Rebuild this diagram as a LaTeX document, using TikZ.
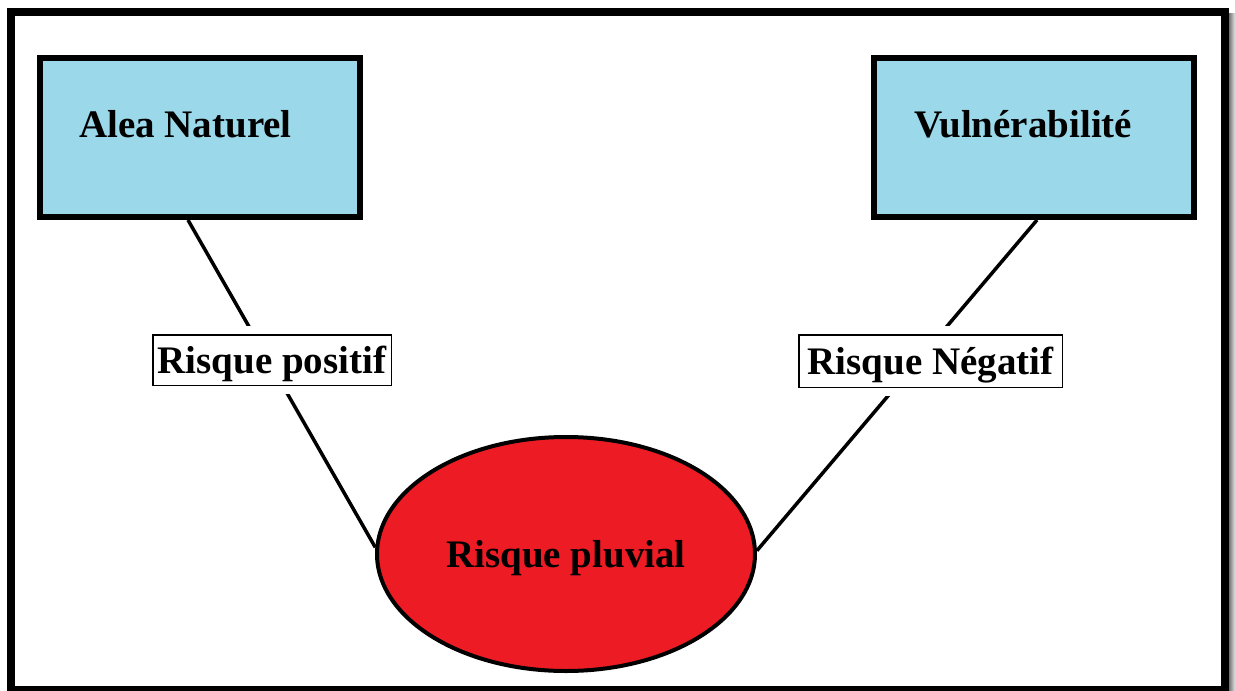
\documentclass[tikz,border=0pt]{standalone}
\usepackage{fontspec}
\setmainfont{Liberation Serif}
\usetikzlibrary{shapes.geometric,calc,backgrounds}
\definecolor{boxblue}{HTML}{9BD9EA}
\definecolor{riskred}{HTML}{ED1C24}
\tikzset{
  bigbox/.style={draw=black, line width=6pt, fill=boxblue, minimum width=320pt, minimum height=159pt, inner sep=0pt},
  bigtext/.style={anchor=base, inner sep=0pt, font=\fontsize{39}{45}\selectfont\bfseries},
  riskellipse/.style={ellipse, draw=black, line width=4pt, fill=riskred, minimum width=378pt, minimum height=234pt, inner sep=0pt, font=\fontsize{39}{45}\selectfont\bfseries, text height=26pt, text depth=0pt},
  lblbox/.style={draw=black, line width=1.5pt, fill=white, preaction={draw=white, line width=18pt}, inner sep=0pt, font=\fontsize{39}{45}\selectfont\bfseries, text height=26pt, text depth=0pt},
  conn/.style={draw=black, line width=3.5pt}
}
\begin{document}
\begin{tikzpicture}[x=1pt, y=-1pt]
\useasboundingbox (0,0) rectangle (1235,691);
% shadow and frame
\shade[left color=black!55, right color=black!10] (1229,13) rectangle (1235,691);
\draw[line width=8pt] (11,12) rectangle (1225,690);
% boxes
\node[bigbox] (A) at (200,137.5) {};
\node[bigtext] (At) at (185.5,137) {Alea Naturel};
\node[bigbox] (B) at (1033.5,137.5) {};
\node[bigtext] (Bt) at (1023.5,137) {Vulnérabilité};
% ellipse
\node[riskellipse] (E) at (566,554) {Risque pluvial};
% labels
\node[lblbox, minimum width=238.5pt, minimum height=50.5pt] (L1) at (272,360) {Risque positif};
\node[lblbox, minimum width=263.5pt, minimum height=52.5pt] (L2) at (930.5,361) {Risque Négatif};
% connectors
\begin{pgfonlayer}{background}
\draw[conn] ($(A.south)+(-12,0)$) -- (E.178);
\draw[conn] ($(B.south)+(3.5,0)$) -- (E.1);
\end{pgfonlayer}
\end{tikzpicture}
\end{document}
